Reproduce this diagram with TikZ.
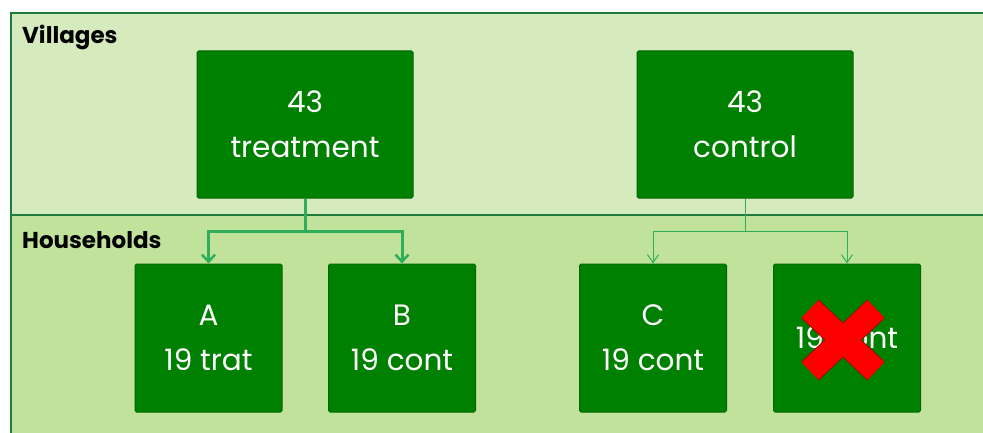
\documentclass[tikz,border=0pt]{standalone}
\usepackage{fontspec}
\setmainfont{Poppins}
\usetikzlibrary{arrows.meta}
\definecolor{bandtop}{HTML}{D5EABD}
\definecolor{bandbot}{HTML}{C0E29A}
\definecolor{frame}{HTML}{1E7D3C}
\definecolor{boxfill}{HTML}{008000}
\definecolor{boxedge}{HTML}{006A00}
\definecolor{conn}{HTML}{2FAE5A}
\tikzset{
  box/.style={draw=boxedge, line width=1pt, fill=boxfill, rounded corners=1.5pt,
    text=white, align=center, inner sep=0pt,
    font=\fontsize{29.5}{45}\selectfont},
  toplevel/.style={box, minimum width=216pt, minimum height=147pt},
  hh/.style={box, minimum width=147pt, minimum height=148pt},
  band/.style={font=\fontsize{23}{25}\selectfont\bfseries, anchor=west, inner sep=0pt},
  thick conn/.style={draw=conn, line width=3pt, -{Straight Barb[length=7pt,width=13pt,line width=2.5pt]}},
  thin conn/.style={draw=conn, line width=1pt, -{Straight Barb[length=8pt,width=11pt,line width=1pt]}},
  xarm/.style={draw=red, line width=24pt, line cap=butt}
}
\begin{document}
\begin{tikzpicture}[x=1pt,y=-1pt]
\useasboundingbox (0,0) rectangle (983,433);
% bands
\fill[bandtop] (11,13) rectangle (983,215);
\fill[bandbot] (11,215) rectangle (983,433);
\draw[frame, line width=2pt] (983,13) -- (11,13) -- (11,433);
\draw[frame, line width=2pt] (11,215) -- (983,215);
\node[band] (vl) at (22,37) {Villages};
\node[band] (hl) at (22,240) {Households};
% boxes
\node[toplevel] (treat) at (305,124.5) {43\\treatment};
\node[toplevel] (ctrl) at (745,124.5) {43\\control};
\node[hh] (A) at (208.5,338) {A\\19 trat};
\node[hh] (B) at (402,338) {B\\19 cont};
\node[hh] (C) at (653,338) {C\\19 cont};
\node[hh] (D) at (847,338) {19 cont};
% connectors
\coordinate (tj) at (305,231);
\coordinate (cj) at (745,231);
\draw[draw=conn, line width=3pt] (treat.south) -- (tj);
\draw[thick conn] (tj) -| (A.north);
\draw[thick conn] (tj) -| (B.north);
\draw[draw=conn, line width=1pt] (ctrl.south) -- (cj);
\draw[thin conn] (cj) -| (C.north);
\draw[thin conn] (cj) -| (D.north);
% red cross
\draw[red!60!black, line width=25.5pt] (810,309) -- (876,371);
\draw[red!60!black, line width=25.5pt] (876,309) -- (810,371);
\draw[xarm] (810,309) -- (876,371);
\draw[xarm] (876,309) -- (810,371);
\end{tikzpicture}
\end{document}
